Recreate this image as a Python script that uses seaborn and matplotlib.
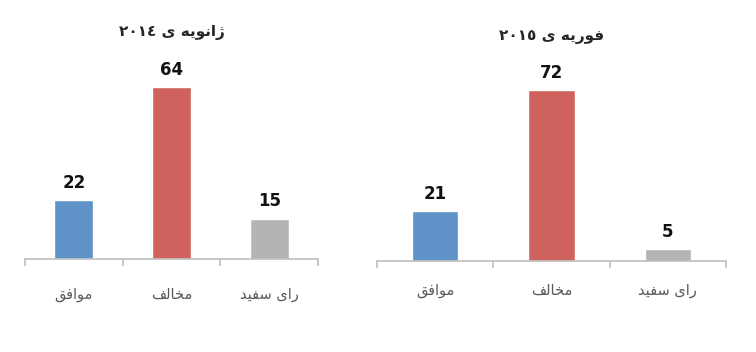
import re
import pandas as pd
import matplotlib
matplotlib.use('Agg')
import matplotlib.pyplot as plt
import seaborn as sns

#---------------------------------------------------------
f_out='out.png'
l_cat=['موافق', 'مخالف', 'رای سفید']
title_2014='ژانویه ی ٢٠١٤'
title_2015='فوریه ی ٢٠١٥'
val_2014=[22, 64, 15]
val_2015=[21, 72, 5]
cmap=['#5f93c8', '#cf625c', '#b4b4b4']

#--------------------------------------------------------
#arabic shaping by hand (matplotlib draws left to right, no joining)
#(isolated, final, initial, medial)
forms={
	'ا':('\uFE8D', '\uFE8E'),
	'د':('\uFEA9', '\uFEAA'),
	'ر':('\uFEAD', '\uFEAE'),
	'ژ':('\uFB8A', '\uFB8B'),
	'و':('\uFEED', '\uFEEE'),
	'خ':('\uFEA5', '\uFEA6', '\uFEA7', '\uFEA8'),
	'س':('\uFEB1', '\uFEB2', '\uFEB3', '\uFEB4'),
	'ف':('\uFED1', '\uFED2', '\uFED3', '\uFED4'),
	'ق':('\uFED5', '\uFED6', '\uFED7', '\uFED8'),
	'ل':('\uFEDD', '\uFEDE', '\uFEDF', '\uFEE0'),
	'م':('\uFEE1', '\uFEE2', '\uFEE3', '\uFEE4'),
	'ن':('\uFEE5', '\uFEE6', '\uFEE7', '\uFEE8'),
	'ه':('\uFEE9', '\uFEEA', '\uFEEB', '\uFEEC'),
	'ی':('\uFBFC', '\uFBFD', '\uFBFE', '\uFBFF'),
}

def shape(s):
	out=[]
	for i, c in enumerate(s):
		if c not in forms:
			out.append(c)
			continue
		prv=s[i-1] if i>0 else ''
		nxt=s[i+1] if i<len(s)-1 else ''
		j_prev=prv in forms and len(forms[prv])==4
		j_next=len(forms[c])==4 and nxt in forms
		f=forms[c]
		if j_prev and j_next: out.append(f[3])
		elif j_prev: out.append(f[1])
		elif j_next: out.append(f[2])
		else: out.append(f[0])
	vis=''.join(out)[::-1]
	#digits stay left to right
	vis=re.sub(r'[\u0660-\u0669\u06F0-\u06F90-9]+', lambda m: m.group(0)[::-1], vis)
	return vis

#--------------------------------------------------------
def plt_bar(ax, vals, title, ymax, lbl_pad, ttl_pad, cmap=cmap):
	df=pd.DataFrame({'cat':l_cat, 'val':vals})
	sns.barplot(x='cat', y='val', hue='cat', data=df, palette=cmap, width=0.4, legend=False, ax=ax, saturation=1)
	ax.set_xlim(-0.5, 2.5)
	ax.set_ylim(0, ymax)
	for c in ax.containers:
		ax.bar_label(c, fontsize=12, weight='bold', padding=6, color='#111111')
	#adjust
	for s in ['top', 'right', 'left']:
		ax.spines[s].set_visible(False)
	ax.spines['bottom'].set_color('#bfbfbf')
	ax.spines['bottom'].set_linewidth(1.2)
	ax.set_yticks([])
	ax.set_xticks([-0.5, 0.5, 1.5, 2.5])
	ax.set_xticklabels([])
	ax.tick_params(axis='x', which='major', bottom=True, direction='out', length=5, color='#bfbfbf', width=1.2)
	ax.set_xticks([0, 1, 2], minor=True)
	ax.set_xticklabels([shape(c) for c in l_cat], minor=True, fontsize=10.5, color='#595959')
	ax.tick_params(axis='x', which='minor', bottom=True, length=0, pad=lbl_pad)
	ax.set_xlabel('')
	ax.set_ylabel('')
	ax.set_title(shape(title), fontsize=11, weight='bold', pad=ttl_pad)
	return

#####################################################################
sns.set_style('white')
plt.rcParams['font.family']=['DejaVu Sans']
fig=plt.figure(figsize=(7.56, 3.52), dpi=100)
ax1=fig.add_axes([0.0331, 0.2642, 0.3876, 0.534])
ax2=fig.add_axes([0.4987, 0.2585, 0.4616, 0.5398])
plt_bar(ax1, val_2014, title_2014, 70, 20, 25)
plt_bar(ax2, val_2015, title_2015, 80, 16, 22)
plt.savefig(f_out, dpi=100)
plt.close()
